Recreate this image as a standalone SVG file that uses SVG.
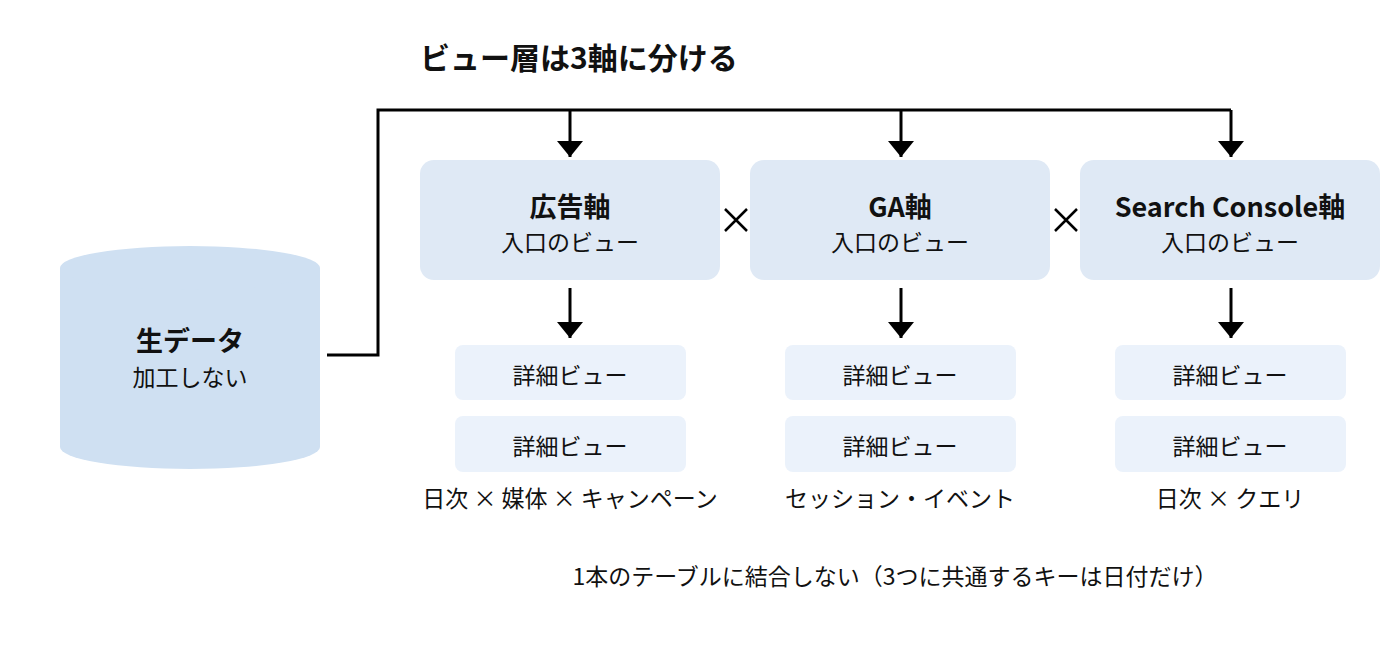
<svg xmlns="http://www.w3.org/2000/svg" width="1400" height="660" viewBox="0 0 1400 660">
<defs>
<marker id="a" viewBox="0 0 10 10" refX="10" refY="5" markerWidth="16" markerHeight="26" markerUnits="userSpaceOnUse" orient="auto" preserveAspectRatio="none"><path d="M0,0 L10,5 L0,10 z" fill="#000"/></marker>
</defs>
<style>
text{font-family:"Noto Sans CJK JP","Noto Sans",sans-serif;fill:#111;text-anchor:middle}
.b{font-weight:bold}
.axis{fill:#dfe9f5}
.det{fill:#ebf2fb}
.ln{stroke:#000;stroke-width:3;fill:none}
</style>
<rect width="1400" height="660" fill="#fff"/>
<text class="b" x="420" y="69" font-size="30" style="text-anchor:start">ビュー層は3軸に分ける</text>
<g id="raw">
<path d="M60,268 L60,447 A130,22 0 0 0 320,447 L320,268 Z" fill="#cfe0f2"/>
<ellipse cx="190" cy="268" rx="130" ry="22" fill="#cfe0f2"/>
<text class="b" x="190" y="351" font-size="27">生データ</text>
<text x="190" y="386" font-size="23">加工しない</text>
</g>
<g id="connectors">
<path class="ln" d="M327,355 H378 V110 H1231"/>
<path class="ln" d="M570,110 V157" marker-end="url(#a)"/>
<path class="ln" d="M901,110 V157" marker-end="url(#a)"/>
<path class="ln" d="M1231,110 V157" marker-end="url(#a)"/>
<path class="ln" d="M570,288 V338" marker-end="url(#a)"/>
<path class="ln" d="M901,288 V338" marker-end="url(#a)"/>
<path class="ln" d="M1231,288 V338" marker-end="url(#a)"/>
<path d="M725,209 l22,22 M747,209 l-22,22 M1055,209 l22,22 M1077,209 l-22,22" stroke="#000" stroke-width="2.5"/>
</g>
<g id="ad">
<rect class="axis" x="420" y="160" width="300" height="120" rx="14"/>
<text class="b" x="570" y="217" font-size="27">広告軸</text>
<text x="570" y="251" font-size="23">入口のビュー</text>
</g>
<g id="ga">
<rect class="axis" x="750" y="160" width="300" height="120" rx="14"/>
<text class="b" x="900" y="217" font-size="27">GA軸</text>
<text x="900" y="251" font-size="23">入口のビュー</text>
</g>
<g id="sc">
<rect class="axis" x="1080" y="160" width="300" height="120" rx="14"/>
<text class="b" x="1230" y="217" font-size="27">Search Console軸</text>
<text x="1230" y="251" font-size="23">入口のビュー</text>
</g>
<g id="ad-d1"><rect class="det" x="455" y="345" width="231" height="55" rx="8"/><text x="570" y="384" font-size="23">詳細ビュー</text></g>
<g id="ad-d2"><rect class="det" x="455" y="416" width="231" height="56" rx="8"/><text x="570" y="455" font-size="23">詳細ビュー</text></g>
<g id="ga-d1"><rect class="det" x="785" y="345" width="231" height="55" rx="8"/><text x="900" y="384" font-size="23">詳細ビュー</text></g>
<g id="ga-d2"><rect class="det" x="785" y="416" width="231" height="56" rx="8"/><text x="900" y="455" font-size="23">詳細ビュー</text></g>
<g id="sc-d1"><rect class="det" x="1115" y="345" width="231" height="55" rx="8"/><text x="1230" y="384" font-size="23">詳細ビュー</text></g>
<g id="sc-d2"><rect class="det" x="1115" y="416" width="231" height="56" rx="8"/><text x="1230" y="455" font-size="23">詳細ビュー</text></g>
<text x="570" y="507" font-size="23">日次 × 媒体 × キャンペーン</text>
<text x="900" y="507" font-size="23">セッション・イベント</text>
<text x="1230" y="507" font-size="23">日次 × クエリ</text>
<text x="895" y="585" font-size="23">1本のテーブルに結合しない（3つに共通するキーは日付だけ）</text>
</svg>
